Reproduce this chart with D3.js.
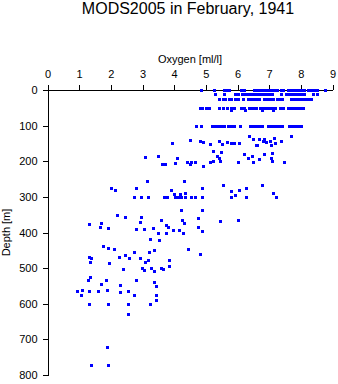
<!DOCTYPE html>
<html>
<head>
<meta charset="utf-8">
<script src="https://cdn.jsdelivr.net/npm/d3@7/dist/d3.min.js"></script>
<style>
  html, body { margin: 0; padding: 0; background: #fff; }
  svg { display: block; font-family: "Liberation Sans", Arial, sans-serif; }
</style>
</head>
<body>
<svg id="chart" width="338" height="384"></svg>
<script>
// Oxygen [ml/l] at the standard surface-layer depths
const oxygen0m = [4.85, 5.26, 5.58, 5.66, 5.73, 6.12, 6.21, 6.51, 6.59, 6.68, 6.78, 6.87, 6.97, 7.06, 7.16,
  7.25, 7.38, 7.44, 7.60, 7.70, 7.79, 7.89, 7.98, 8.04, 8.11, 8.22, 8.31, 8.41, 8.52, 8.77];
const oxygen10m = [5.29, 5.58, 5.91, 6.02, 6.13, 6.24, 6.33, 6.43, 6.52, 6.62, 6.72, 6.81, 6.91, 7.00, 7.10,
  7.36, 7.54, 7.63, 7.73, 7.82, 7.92, 7.99, 8.11, 8.38, 8.52];
const oxygen25m = [5.43, 5.53, 5.62, 5.72, 5.81, 5.92, 6.03, 6.18, 6.32, 6.40, 6.49, 6.59, 6.68, 6.84, 6.94,
  7.03, 7.13, 7.25, 7.35, 7.41, 7.70, 7.79, 7.89, 7.98, 8.08, 8.17, 8.27, 8.33];
const oxygen50m = [4.80, 4.88, 4.99, 5.10, 5.43, 5.54, 5.68, 5.78, 5.89, 6.10, 6.21, 6.35, 6.42, 6.48, 6.59,
  6.72, 6.81, 6.91, 7.00, 7.10, 7.19, 7.33, 7.44, 7.58, 7.68, 7.77, 7.87, 7.96, 8.06];
const oxygen55m = [5.81, 6.24, 6.78, 7.12];
const oxygen100m = [4.69, 4.85, 5.20, 5.29, 5.39, 5.48, 5.58, 5.70, 5.80, 5.89, 6.08, 6.40, 6.49, 6.59, 6.68,
  6.78, 6.97, 7.06, 7.13, 7.22, 7.32, 7.41, 7.63, 7.73, 7.82, 7.92, 8.01];

// Deeper observations: [oxygen ml/l, depth m]
const deepSamples = [
  [6.35,129],[7.70,130],[3.94,150],[4.50,139],[4.80,144],[4.90,147],[5.13,151],[5.40,144],[5.52,152],
  [5.68,147],[5.79,150],[5.90,148],[6.06,150],[6.50,138],[6.57,153],[6.68,138],[6.85,137],[6.90,146],
  [7.03,142],[7.05,153],[7.14,136],[7.17,149],[7.36,144],[6.79,144],[6.63,153],
  [5.24,172],[5.49,174],[3.50,186],[4.08,191],[5.35,186],[5.40,191],[6.22,180],[6.33,192],[6.47,184],
  [6.69,195],[6.85,180],[7.05,190],[7.10,178],[7.09,199],[3.08,189],
  [3.61,209],[3.72,209],[4.04,206],[4.40,201],[4.52,202],[4.49,209],[4.67,201],[4.92,214],[5.13,201],
  [5.22,198],[5.46,198],[6.00,201],[6.50,201],[7.48,201],
  [4.32,255],[3.13,256],[4.89,275],[5.55,268],[5.79,284],[6.06,281],[6.26,274],[6.76,268],[7.12,290],
  [7.20,301],[3.91,282],[4.00,293],[4.19,293],[4.35,289],[2.02,276],[2.14,281],[2.78,276],
  [2.74,301],[2.96,301],[3.16,301],[3.68,301],[3.77,301],[4.03,301],[4.13,301],[4.23,301],[4.35,301],
  [4.53,301],[4.67,301],[4.87,301],[5.78,301],[5.93,296],[6.28,299],
  [4.22,336],[4.89,337],[2.20,352],[2.45,356],[2.94,357],[3.59,365],[4.26,366],[4.76,360],[5.46,369],
  [6.03,366],[2.93,371],[1.30,377],[1.68,374],[4.31,374],[3.75,380],[3.81,385],[4.76,384],[1.66,385],
  [1.91,388],[3.32,388],[2.78,391],[3.06,391],[3.95,392],[4.16,392],[4.89,396],
  [3.50,402],[3.75,402],[4.27,401],[3.25,418],[3.53,422],[1.74,439],[1.92,444],[2.11,447],[4.45,447],
  [3.37,450],[2.74,455],[3.21,456],[4.80,459],[2.45,463],[2.26,468],[1.32,470],[1.38,472],[2.58,472],
  [2.93,472],[3.16,478],[3.85,478],[3.09,483],[1.34,484],[1.95,486],[3.84,493],
  [2.98,500],[3.28,500],[3.59,500],[2.39,503],[3.64,503],[3.06,506],[3.37,509],
  [1.35,526],[1.28,532],[1.85,534],[2.80,534],[3.37,540],[1.70,544],[2.30,547],[3.44,551],
  [1.09,561],[1.89,561],[0.94,563],[1.58,563],[2.55,563],[1.31,565],[2.30,568],[1.06,576],[2.73,576],
  [3.44,575],[3.44,590],[1.32,602],[1.92,602],[2.55,602],[3.24,602],[2.53,630],
  [1.87,722],[1.38,772],[1.92,772]
];

const xTicks = [0, 1, 2, 3, 4, 5, 6, 7, 8, 9];
const yTicks = [0, 100, 200, 300, 400, 500, 600, 700, 800];

const surfaceLevels = [
  [0, oxygen0m], [10, oxygen10m], [25, oxygen25m], [50, oxygen50m], [55, oxygen55m], [100, oxygen100m]
];
const points = surfaceLevels
  .flatMap(([depth, values]) => values.map(o => ({ oxygen: o, depth: depth })))
  .concat(deepSamples.map(([o, d]) => ({ oxygen: o, depth: d })));

const svg = d3.select("#chart");

const x = d3.scaleLinear().domain([0, 9]).range([47.5, 332.5]);
const y = d3.scaleLinear().domain([0, 800]).range([90, 375]);

// Title
svg.append("text")
  .attr("x", 188).attr("y", 14)
  .attr("text-anchor", "middle")
  .attr("font-size", 16)
  .text("MODS2005 in February, 1941");

// Oxygen axis along the top
const xAxis = svg.append("g")
  .attr("transform", `translate(0,${y(0)})`)
  .call(d3.axisTop(x).tickValues(xTicks).tickSize(5).tickSizeOuter(0).tickPadding(7));

// Depth axis on the left
const yAxis = svg.append("g")
  .attr("transform", `translate(${x(0)},0)`)
  .call(d3.axisLeft(y).tickValues(yTicks).tickSize(5).tickSizeOuter(0).tickPadding(5));

[xAxis, yAxis].forEach(g => {
  g.selectAll("text").attr("font-size", 11).attr("fill", "#000")
    .attr("font-family", "'Liberation Sans', Arial, sans-serif");
  g.selectAll("line, path").attr("stroke", "#000").attr("shape-rendering", "crispEdges");
});

// Axis titles
svg.append("text")
  .attr("x", 190).attr("y", 63)
  .attr("text-anchor", "middle")
  .attr("font-size", 11)
  .text("Oxygen [ml/l]");

svg.append("text")
  .attr("transform", `translate(10,${(y(0) + y(800)) / 2}) rotate(-90)`)
  .attr("text-anchor", "middle")
  .attr("font-size", 11)
  .text("Depth [m]");

// Observations
svg.append("g")
  .selectAll("rect")
  .data(points)
  .join("rect")
  .attr("x", d => Math.round(x(d.oxygen)) - 1.5)
  .attr("y", d => Math.round(y(d.depth)) - 1.5)
  .attr("width", 3)
  .attr("height", 3)
  .attr("fill", "#0000ff")
  .attr("shape-rendering", "crispEdges");
</script>
</body>
</html>
